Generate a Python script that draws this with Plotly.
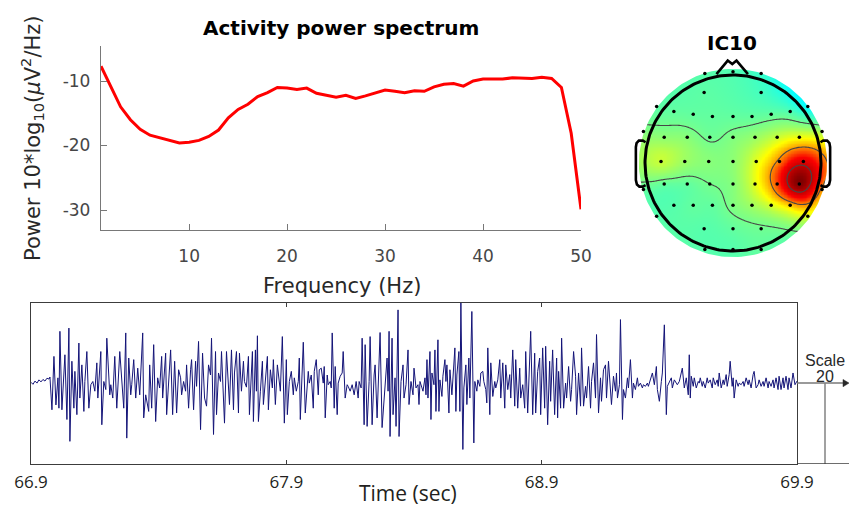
import numpy as np
import plotly.graph_objects as go

W, H = 849, 506


def fx(px):
    return px / W


def fy(py):
    return 1 - py / H


# ---------------- activity power spectrum ----------------
freq_hz = list(range(1, 51))
power_db = [-7.7, -10.8, -14.0, -16.0, -17.5, -18.4, -18.8, -19.2, -19.6, -19.5,
            -19.2, -18.6, -17.6, -15.7, -14.4, -13.6, -12.4, -11.8, -11.0, -11.1,
            -11.3, -11.1, -11.9, -12.2, -12.5, -12.2, -12.7, -12.3, -11.9, -11.4,
            -11.6, -11.8, -11.5, -11.6, -10.9, -10.5, -10.4, -10.8, -10.0, -9.7,
            -9.7, -9.7, -9.5, -9.6, -9.6, -9.4, -9.6, -11.0, -18.1, -29.9]
spec_xticks = [10, 20, 30, 40, 50]
spec_yticks = [-30, -20, -10]
spec_yticktext = ["-30", "-20", "-10"]

# ---------------- IC10 scalp map (head radius 0.5) ----------------
elec_x = [-0.160, 0.0, 0.160,
          -0.164, 0.160,
          -0.434, 0.425,
          -0.336, -0.226, -0.117, 0.0, 0.108, 0.217, 0.325,
          -0.509, 0.506,
          -0.391, -0.260, -0.132, 0.0, 0.125, 0.251, 0.377,
          -0.409, -0.274, -0.138, 0.0, 0.132, 0.264, 0.400,
          -0.391, -0.260, -0.132, 0.0, 0.125, 0.251, 0.377,
          -0.509, 0.506,
          -0.336, -0.226, -0.117, 0.0, 0.108, 0.217, 0.325,
          -0.434, 0.425,
          -0.164, 0.0, 0.160,
          -0.160, 0.0, 0.160]
elec_y = [0.509, 0.519, 0.509,
          0.400, 0.400,
          0.321, 0.321,
          0.292, 0.277, 0.264, 0.264, 0.264, 0.277, 0.292,
          0.179, 0.179,
          0.147, 0.147, 0.147, 0.147, 0.147, 0.147, 0.147,
          0.009, 0.009, 0.009, 0.009, 0.009, 0.009, 0.009,
          -0.119, -0.119, -0.119, -0.119, -0.119, -0.119, -0.119,
          -0.151, -0.151,
          -0.240, -0.240, -0.240, -0.240, -0.240, -0.240, -0.240,
          -0.302, -0.302,
          -0.374, -0.374, -0.374,
          -0.491, -0.491, -0.491]
elec_w = [0.465, 0.46, 0.44,
          0.47, 0.45,
          0.47, 0.40,
          0.475, 0.475, 0.475, 0.475, 0.475, 0.475, 0.46,
          0.50, 0.53,
          0.51, 0.505, 0.485, 0.50, 0.52, 0.56, 0.59,
          0.555, 0.52, 0.505, 0.51, 0.58, 0.71, 0.85,
          0.475, 0.475, 0.49, 0.505, 0.58, 0.75, 1.00,
          0.475, 0.67,
          0.465, 0.475, 0.475, 0.50, 0.525, 0.57, 0.64,
          0.465, 0.57,
          0.465, 0.475, 0.485,
          0.465, 0.465, 0.475]

# ---------------- activity time course (256 Hz samples, uV) ----------------
SRATE = 256.0
T0 = 66.9
eeg_sample = [0, 2, 4, 6, 8, 10, 12, 14, 16, 18, 19,
              21, 23, 25, 27, 28, 29, 31, 34, 36, 38, 39, 41, 43, 44, 46, 48, 49, 51, 53, 54,
              56, 58, 60, 62, 64, 66, 67, 70, 71, 73, 75, 76, 79, 80, 82, 84, 86, 89, 91, 93,
              95, 96, 98, 100, 101, 103, 105, 107, 109, 112, 113, 115, 118, 119, 121, 123,
              125, 127, 129,
              131, 132, 135, 136, 138, 140, 142, 144, 146, 148, 150, 151, 153, 155, 156, 158,
              160, 161, 163, 165, 166, 168, 170, 172, 174, 176, 178, 180, 181, 183, 185, 186,
              188, 190, 191, 192, 194, 196, 198, 199, 201, 203, 204, 206, 208, 209, 211, 213,
              214, 216, 218, 219, 222, 223, 225, 226, 227, 228, 230, 232, 233, 235, 237, 238,
              240, 242, 243, 245, 247, 250, 252, 254, 256, 257, 259,
              261, 263, 264, 266, 268, 269, 270, 273, 275, 277, 278, 279, 281, 283, 284, 286,
              288, 289, 291, 293, 294, 295, 297, 298, 300, 301, 302, 304, 305, 307, 308, 310,
              312, 313, 315, 317, 318, 320, 322, 324, 326, 328, 329, 331, 332, 334, 335, 337,
              339, 340, 342, 344, 345, 347, 350, 352, 355, 357, 358, 359, 360, 362, 363, 365,
              366, 368, 369, 371, 373, 374, 376, 378, 379, 381, 383, 384, 386, 388, 389, 390,
              392,
              393, 395, 396, 397, 398, 400, 401, 402, 404, 405, 406, 408, 409, 410, 412, 413,
              415, 416, 417, 419, 420, 422, 423, 425, 426, 427, 429, 430, 431, 433, 434, 436,
              437, 439, 440, 442, 444, 445, 447, 448, 450, 451, 453, 454, 456, 457, 458, 460,
              461, 463, 465, 466, 468, 470, 471, 473, 475, 476, 478, 480, 481, 483, 485, 486,
              488, 490, 491, 493, 495, 496, 498, 501, 503, 505, 506, 508, 510, 511, 513, 515,
              516, 518, 520, 521, 523, 525,
              527, 528, 529, 531, 532, 534, 536, 537, 539, 541, 542, 544, 546, 547, 549, 551,
              552, 554, 556, 557, 559, 561, 562, 564, 566, 567, 569, 571, 572, 574, 576, 577,
              579, 581, 582, 584, 586, 587, 588, 590, 591, 593, 594, 596, 598, 599, 601, 603,
              604, 606, 608, 609, 611, 613, 614, 616, 618, 619, 622, 623, 625, 627, 628, 630,
              632, 633, 635, 637, 638, 640, 642, 643, 645, 647, 648, 650, 652, 653, 655,
              657, 659, 660, 661, 662, 664, 665, 667, 669, 670, 671, 673, 674, 676, 678, 679,
              681, 683, 684, 686, 688, 689, 690, 692, 694, 695, 697, 698, 700, 701, 703, 704,
              705, 707, 709, 710, 712, 714, 715, 717, 719, 720, 722, 724, 725, 727, 729, 730,
              732, 734, 735, 737, 739, 740, 742, 744, 745, 747, 749, 750, 752, 754, 755, 757,
              759, 760, 762, 764, 765, 766, 768]
eeg_uv = [0.2, -0.3, 0.5, 0.0, 0.8, 0.3, 0.9, 0.5, 1.2, 1.0, 1.5,
          -6.6, 6.6, -5.4, 1.3, -6.2, 12.8, -6.6, 7.0, -9.0, 13.6, -14.4, 5.4, -6.2, 2.9, -7.8,
          9.9, -3.7, 4.5, -7.0, 0.4,
          7.8, -6.2, -0.4, 0.4, -2.0, 5.0, -3.7, 7.8, -10.3, 0.4, -1.6, 11.1, -2.9, -0.4, -3.7,
          6.6, -6.2, 7.8, 0.4, -6.2,
          12.4, -13.6, 6.2, -2.9, -0.4, 5.8, -3.7, 3.7, -2.9, 12.4, -8.6, -2.9, -7.0, 4.5, -6.2,
          9.5, -9.5, 1.3, -1.2,
          6.6, -3.7, 7.4, -7.8, 0.0, 8.2, -7.8, 5.4, -7.4, 3.3, 1.3, -2.9, 0.4, -2.0, 4.5, -6.2,
          3.3, 5.8, -6.6, 5.4, -0.8, 10.3, -11.5, 7.4, -3.7, -5.7, 4.5, 2.0, 11.1, -12.7, 7.8,
          -7.8,
          2.5, 0.4, 7.8, 0.0, -9.9, 7.8, -3.7, -5.3, 8.2, -6.6, 2.5, 7.8, -7.4, 7.4, -2.0, 5.4,
          0.4, -1.0, 6.6, -7.8, 7.8, -9.5, 8.2, -2.0, 11.7, -9.5, -2.0, 5.4, -5.3, 0.4, 6.6,
          -6.6,
          3.3, -1.2, 5.8, -5.3, 4.5, -2.0, 11.5, -9.9, 5.8, -7.8, 0.4,
          2.9, -2.9, 1.3, -2.0, 0.4, 6.2, -9.0, 10.1, -7.4, 1.7, 2.9, 0.0, 2.0, -6.2, 2.9, 5.8,
          -2.9, 3.3, 3.7, 0.0, 4.1, -8.6, 2.0, -0.4, 0.4, -1.2, 12.4, -6.2, 4.1, -7.8, 0.0, 1.7,
          2.5, 7.8, -3.7, -0.4, -0.8, -2.0, -0.4, -2.9, 0.4, -3.7, 0.4, -1.2, 11.1, -10.3, 9.5,
          -10.7,
          0.4, 11.5, -10.3, 2.0, 4.5, -8.6, 12.5, -11.0, 0.4, 6.2, -2.0, 12.8, -13.2, 11.1,
          -7.8, 1.3,
          -10.7, 18.1, -13.2, 0.4, 4.5, -3.7, -0.4, 8.2, -5.3, 0.4, -2.9, 3.7, -1.2, -0.4, -5.3,
          0.4,
          -1.2,
          -2.0, 1.3, -2.9, 5.8, -3.7, 7.8, -9.0, 2.5, -0.4, 8.2, -7.0, 10.7, -7.0, 0.8, -3.3, 1.7,
          5.8, 0.4, 4.5, -7.4, 3.3, -2.9, 0.8, 8.7, -7.0, 2.0, 7.8, -7.0, 19.8, -16.4, -1.2, 4.5,
          -5.3, 6.2, -3.7, 17.7, -14.8, 0.4, -2.0, 0.8, -0.8, 2.5, 2.9, 0.4, -1.6, -4.9, 8.7,
          -7.8,
          5.0, -3.3, 0.4, -1.2, 0.8, 5.8, -3.7, 5.0, -6.2, 4.5, -1.6, 2.1, -3.7, 8.2, -5.7, 5.8,
          -6.2, 3.7, -3.7, -0.4, -6.2, 7.8, -7.4, 12.8, -7.8, 7.4, -7.4, 2.9, 6.2, -7.8, 8.7,
          -6.2,
          9.1, -10.3, 5.4, -4.5, 8.2, -7.8,
          6.2, -8.6, 2.9, -6.2, 11.1, -6.2, 0.0, -3.7, 4.1, -4.5, -1.6, 7.8, 1.7, -7.8, 2.5, -5.7,
          8.7, -5.7, -0.8, -3.7, 4.1, -6.2, 0.4, 5.0, -3.7, 12.0, -7.4, 1.3, -4.5, 3.3, 4.5, -3.7,
          5.4, -2.0, -5.3, 1.7, -2.0, 2.5, -3.7, -0.4, 15.7, -9.0, -1.6, -3.7, 1.3, -1.2, 5.8,
          -3.7,
          0.0, -1.6, 1.3, -0.8, 0.0, -1.2, -0.4, -0.8, 0.0, -0.8, 1.3, 2.5, -0.4, 4.1, -1.6, -4.5,
          0.4, 2.5, 14.4, -7.8, -0.8, 0.4, 1.3, -1.2, 0.8, 0.0, -0.4, 0.4, 2.9, 3.7, -1.2,
          1.3, -2.9, 7.0, -3.7, 1.7, -0.8, 1.3, -1.2, 0.4, 0.0, 1.3, -0.8, 0.4, -1.2, 1.3, 0.0,
          0.8, -1.2, 1.3, -0.4, 0.8, -0.8, 2.5, -1.2, 0.8, -0.4, 2.1, -0.8, 2.1, 5.4, -0.8, 1.3,
          -3.7, 0.8, -0.8, 0.0, -0.4, 0.4, -0.8, 1.3, -0.4, 0.8, -1.2, 2.1, 2.9, -1.2, -0.4, 0.8,
          -0.8, 0.4, -0.8, 1.3, -1.2, 0.4, -0.8, 0.8, -1.2, 1.3, -1.6, 1.7, -1.6, 1.3, -1.2, 1.7,
          -1.6, 1.3, -1.2, 2.5, 1.3, -0.4, 0.5]
time_ticks = [66.9, 67.9, 68.9, 69.9]
time_ticktext = ["66.9", "67.9", "68.9", "69.9"]
SCALE_UV = 20

# ---------------- helpers ----------------
def biharmonic_map(xe, ye, we, grid):
    """Biharmonic spline (griddata 'v4') interpolation of electrode weights."""
    xe, ye, we = (np.asarray(a, float) for a in (xe, ye, we))
    d = np.hypot(xe[:, None] - xe[None, :], ye[:, None] - ye[None, :])
    with np.errstate(divide="ignore", invalid="ignore"):
        g = np.where(d > 0, d ** 2 * (np.log(d) - 1.0), 0.0)
    coef = np.linalg.solve(g, we)
    gx, gy = np.meshgrid(grid, grid)
    dg = np.hypot(gx[..., None] - xe, gy[..., None] - ye)
    with np.errstate(divide="ignore", invalid="ignore"):
        gg = np.where(dg > 0, dg ** 2 * (np.log(dg) - 1.0), 0.0)
    return gg @ coef


grid = np.linspace(-0.58, 0.58, 141)
topo = biharmonic_map(elec_x, elec_y, elec_w, grid)

fig = go.Figure()

# spectrum curve
fig.add_trace(go.Scatter(x=freq_hz, y=power_db, mode="lines",
                         line=dict(color="rgb(255,0,0)", width=3),
                         xaxis="x", yaxis="y", hoverinfo="skip"))

# scalp map: interpolated field with contour lines
fig.add_trace(go.Contour(x=grid, y=grid, z=topo, xaxis="x2", yaxis="y2",
                         colorscale="Jet", zmin=0, zmax=1, zauto=False,
                         contours=dict(coloring="heatmap", start=0.49, end=0.89,
                                       size=0.2, showlabels=False),
                         line=dict(color="rgb(70,70,70)", width=1.1),
                         showscale=False, hoverinfo="skip"))

# white surround outside the interpolation disk
R_DISK = 0.535
ang = np.radians(np.linspace(225, -135, 181))
mask_x = [-1, 1, 1, -1, -1] + list(R_DISK * np.cos(ang)) + [-1]
mask_y = [-1, -1, 1, 1, -1] + list(R_DISK * np.sin(ang)) + [-1]
fig.add_trace(go.Scatter(x=mask_x, y=mask_y, mode="lines", fill="toself",
                         fillcolor="white", line=dict(width=0, color="white"),
                         xaxis="x2", yaxis="y2", hoverinfo="skip"))

# head outline, ears and nose
HEAD_R = 0.5
th = np.linspace(0, 2 * np.pi, 241)
fig.add_trace(go.Scatter(x=HEAD_R * np.cos(th), y=HEAD_R * np.sin(th), mode="lines",
                         line=dict(color="black", width=3),
                         xaxis="x2", yaxis="y2", hoverinfo="skip"))
ear_x = [0.497, 0.512, 0.535, 0.548, 0.552, 0.552, 0.546, 0.532, 0.512, 0.497]
ear_y = [0.118, 0.127, 0.127, 0.113, 0.090, -0.097, -0.122, -0.134, -0.134, -0.126]
for sgn in (1, -1):
    fig.add_trace(go.Scatter(x=[sgn * v for v in ear_x], y=ear_y, mode="lines",
                             line=dict(color="black", width=2.6),
                             xaxis="x2", yaxis="y2", hoverinfo="skip"))
nose_x = [-0.094, -0.030, -0.004, 0.020, 0.085]
nose_y = [0.505, 0.582, 0.562, 0.582, 0.505]
fig.add_trace(go.Scatter(x=nose_x, y=nose_y, mode="lines",
                         line=dict(color="black", width=2.6),
                         xaxis="x2", yaxis="y2", hoverinfo="skip"))

# electrodes
fig.add_trace(go.Scatter(x=elec_x, y=elec_y, mode="markers",
                         marker=dict(color="black", size=3.5),
                         xaxis="x2", yaxis="y2", hoverinfo="skip"))

# activity trace
t_sec = T0 + np.asarray(eeg_sample) / SRATE
fig.add_trace(go.Scatter(x=t_sec, y=eeg_uv, mode="lines",
                         line=dict(color="rgb(20,20,120)", width=1),
                         xaxis="x3", yaxis="y3", hoverinfo="skip"))

spec_font = dict(family="DejaVu Sans", size=17, color="rgb(70,70,70)")
axis_gray = "rgb(120,120,120)"

fig.update_layout(
    width=W, height=H,
    margin=dict(l=0, r=0, t=0, b=0, autoexpand=False),
    paper_bgcolor="white", plot_bgcolor="white",
    showlegend=False,
    xaxis=dict(domain=[fx(101), fx(581)], range=[1, 50], anchor="y", automargin=False,
               tickvals=spec_xticks, ticks="inside", ticklen=6, tickwidth=1.3,
               tickcolor=axis_gray, showline=True, linecolor=axis_gray, linewidth=1.3,
               showgrid=False, zeroline=False, tickfont=spec_font,
               ticklabelstandoff=10),
    yaxis=dict(domain=[fy(230), fy(46)], range=[-33.1, -4.57], anchor="x",
               automargin=False,
               tickvals=spec_yticks, ticktext=spec_yticktext, ticks="inside",
               ticklen=6, tickwidth=1.3, tickcolor=axis_gray, showline=True,
               linecolor=axis_gray, linewidth=1.3, showgrid=False, zeroline=False,
               tickfont=spec_font, ticklabelstandoff=6),
    xaxis2=dict(domain=[fx(733 - 109.1), fx(733 + 109.1)], range=[-0.62, 0.62],
                anchor="y2", visible=False, automargin=False),
    yaxis2=dict(domain=[fy(163 + 109.1), fy(163 - 109.1)], range=[-0.62, 0.62],
                anchor="x2", visible=False, automargin=False),
    xaxis3=dict(domain=[fx(31), fx(797)], range=[T0, 69.9], anchor="y3",
                automargin=False,
                tickvals=time_ticks, ticktext=time_ticktext, ticks="inside",
                ticklen=4, tickcolor="rgb(60,60,60)", showline=True, mirror="ticks",
                linecolor="rgb(60,60,60)", linewidth=1.3, showgrid=False,
                zeroline=False,
                tickfont=dict(family="Open Sans", size=17, color="rgb(35,31,32)"),
                ticklabelstandoff=2),
    yaxis3=dict(domain=[fy(464), fy(303)], range=[-SCALE_UV, 19.8], anchor="x3",
                automargin=False,
                showticklabels=False, ticks="", showline=True, mirror=True,
                linecolor="rgb(60,60,60)", linewidth=1.3, showgrid=False,
                zeroline=False),
)

annotations = [
    dict(text="<b>Activity power spectrum</b>", x=fx(341), y=fy(28),
         font=dict(family="DejaVu Sans", size=20, color="black")),
    dict(text="Frequency (Hz)", x=fx(342), y=fy(286),
         font=dict(family="DejaVu Sans", size=21, color="rgb(40,40,40)")),
    dict(text="Power 10*log<sub>10</sub>(<i>μ</i>V<sup>2</sup>/Hz)", x=fx(32), y=fy(138),
         textangle=-90,
         font=dict(family="DejaVu Sans", size=21, color="rgb(40,40,40)")),
    dict(text="<b>IC10</b>", x=fx(732), y=fy(43),
         font=dict(family="DejaVu Sans", size=20, color="black")),
    dict(text="Time (sec)", x=fx(408), y=fy(493),
         font=dict(family="Open Sans", size=21, color="rgb(35,31,32)")),
    dict(text="Scale", x=fx(825), y=fy(360),
         font=dict(family="Liberation Sans", size=16, color="rgb(40,40,40)")),
    dict(text=str(SCALE_UV), x=fx(825), y=fy(376),
         font=dict(family="Liberation Sans", size=16, color="rgb(40,40,40)")),
]
for a in annotations:
    a.update(xref="paper", yref="paper", showarrow=False,
             xanchor="center", yanchor="middle")
fig.update_layout(annotations=annotations)

# scale bar: zero line with arrowhead, vertical bar of SCALE_UV, baseline
fig.add_shape(type="line", xref="paper", yref="y3", x0=fx(797), x1=fx(845),
              y0=0, y1=0, line=dict(color="rgb(120,120,120)", width=1.5))
fig.add_shape(type="path", xref="paper", yref="y3",
              path=(f"M {fx(843)},0.9 L {fx(849)},0 L {fx(843)},-0.9 Z"),
              fillcolor="rgb(40,40,40)", line=dict(color="rgb(40,40,40)", width=0.5))
fig.add_shape(type="line", xref="paper", yref="y3", x0=fx(825), x1=fx(825),
              y0=0, y1=-SCALE_UV, line=dict(color="rgb(130,130,130)", width=1.5))
fig.add_shape(type="line", xref="paper", yref="y3", x0=fx(797), x1=1.0,
              y0=-SCALE_UV, y1=-SCALE_UV, line=dict(color="rgb(60,60,60)", width=1.3))

fig.write_html("out.html")
